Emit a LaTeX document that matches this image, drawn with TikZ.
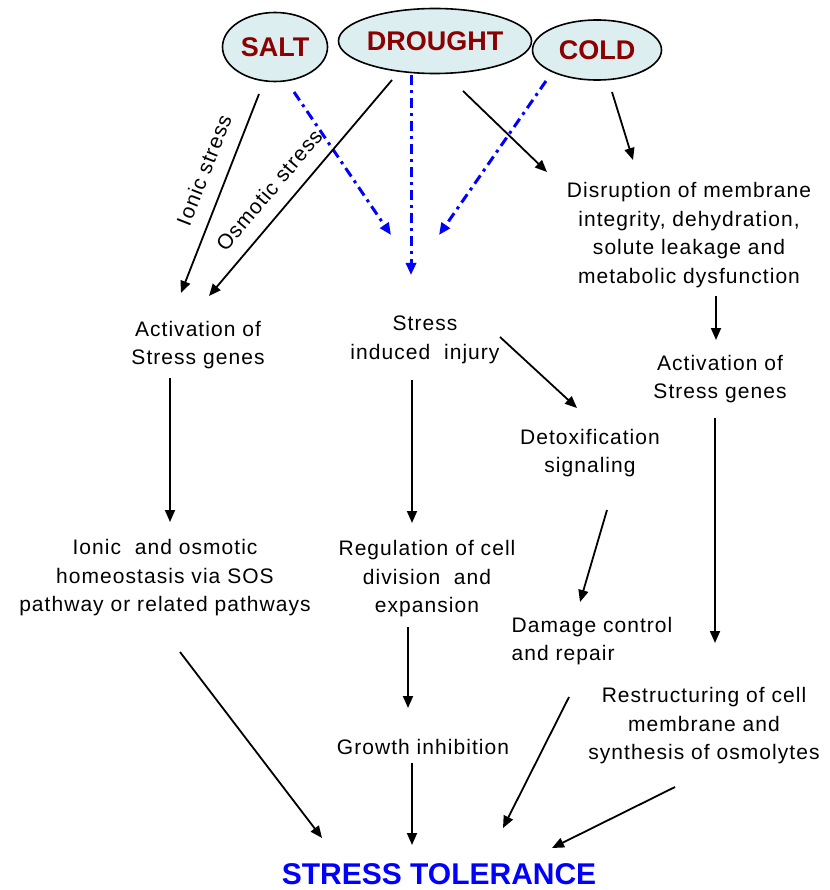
\documentclass[tikz,border=0pt]{standalone}
\usepackage{fontspec}
\setmainfont{Liberation Sans}
\newfontfamily\labfont[LetterSpace=5]{Liberation Sans}
\usetikzlibrary{shapes.geometric,arrows.meta}
\definecolor{ellfill}{HTML}{DDEEF1}
\definecolor{darkred}{HTML}{8B0000}
\definecolor{myblue}{HTML}{0000FF}
\begin{document}
\begin{tikzpicture}[x=1pt,y=-1pt,
  lbl/.style={font=\labfont\fontsize{21}{28.5}\selectfont, align=center, inner sep=0pt},
  ell/.style={ellipse, draw=black, line width=1.6pt, fill=ellfill, inner sep=0pt,
              font=\bfseries\fontsize{27}{30}\selectfont, text=darkred},
  arr/.style={-{Triangle[length=12pt,width=10pt]}, line width=1.8pt},
  barr/.style={-{Triangle[length=12pt,width=10pt]}, line width=3pt, draw=myblue,
               dash pattern=on 10pt off 5pt on 3pt off 5pt}]
\useasboundingbox (0,0) rectangle (829,890);

% stress sources
\node[ell, minimum width=105pt, minimum height=69pt] (salt) at (275,47) {SALT};
\node[ell, minimum width=174pt, minimum height=65pt] (drought) at (435,41) {DROUGHT};
\node[ell, minimum width=129pt, minimum height=60pt] (cold) at (597,50) {COLD};

% text nodes
\node[lbl] (disr) at (689,235) {Disruption of membrane\\integrity, dehydration,\\solute leakage and\\metabolic dysfunction};
\node[lbl] (act1) at (198,345) {Activation of\\Stress genes};
\node[lbl] (inj) at (425,340) {Stress\\induced\ \ injury};
\node[lbl] (act2) at (720,379) {Activation of\\Stress genes};
\node[lbl] (detox) at (590,453) {Detoxification\\signaling};
\node[lbl] (ionic) at (165,578) {Ionic\ \ and osmotic\\homeostasis via SOS\\pathway or related pathways};
\node[lbl] (reg) at (427,579) {Regulation of cell\\division\ \ and\\expansion};
\node[lbl, align=left] (dmg) at (592,641) {Damage control\\and repair};
\node[lbl] (restr) at (704,726) {Restructuring of cell\\membrane and\\synthesis of osmolytes};
\node[lbl] (growth) at (423,747) {Growth inhibition};
\node[font=\bfseries\fontsize{30}{32}\selectfont, text=myblue, inner sep=0pt] (tol) at (439,874) {STRESS TOLERANCE};

% arrow labels
\node[lbl, rotate=68.6] (ionlab) at (204,170) {Ionic stress};
\node[lbl, rotate=49.7] (osmlab) at (269,190) {Osmotic stress};

% connector end points
\coordinate (saltA) at (259,94);   \coordinate (act1A) at (181,293);
\coordinate (droA) at (392,80);    \coordinate (act1B) at (209,296);
\coordinate (saltB) at (294,92);   \coordinate (injA) at (391,235);
\coordinate (droB) at (411,75);    \coordinate (injB) at (411,275);
\coordinate (coldA) at (546,81);   \coordinate (injC) at (439,235);
\coordinate (droC) at (463,91);    \coordinate (disrA) at (547,172);
\coordinate (coldB) at (612,92);   \coordinate (disrB) at (633,160);
\coordinate (disrC) at (716,296);  \coordinate (act2A) at (716,340);
\coordinate (act1C) at (170,378);  \coordinate (ionicA) at (170,522);
\coordinate (injD) at (412,380);   \coordinate (regA) at (412,523);
\coordinate (injE) at (500,337);   \coordinate (detoxA) at (577,408);
\coordinate (detoxB) at (607,510); \coordinate (dmgA) at (580,602);
\coordinate (act2B) at (715,418);  \coordinate (restrA) at (715,643);
\coordinate (regB) at (408,627);   \coordinate (growthA) at (408,708);
\coordinate (ionicB) at (180,652); \coordinate (tolA) at (322,838);
\coordinate (growthB) at (412,763);\coordinate (tolB) at (412,845);
\coordinate (dmgB) at (569,697);   \coordinate (tolC) at (503,828);
\coordinate (restrB) at (675,787); \coordinate (tolD) at (552,848);

% blue dash-dot connectors
\draw[barr] (saltB) -- (injA);
\draw[barr] (droB) -- (injB);
\draw[barr] (coldA) -- (injC);

% black connectors
\draw[arr] (saltA) -- (act1A);
\draw[arr] (droA) -- (act1B);
\draw[arr] (droC) -- (disrA);
\draw[arr] (coldB) -- (disrB);
\draw[arr] (disrC) -- (act2A);
\draw[arr] (act1C) -- (ionicA);
\draw[arr] (injD) -- (regA);
\draw[arr] (injE) -- (detoxA);
\draw[arr] (detoxB) -- (dmgA);
\draw[arr] (act2B) -- (restrA);
\draw[arr] (regB) -- (growthA);
\draw[arr] (ionicB) -- (tolA);
\draw[arr] (growthB) -- (tolB);
\draw[arr] (dmgB) -- (tolC);
\draw[arr] (restrB) -- (tolD);
\end{tikzpicture}
\end{document}
